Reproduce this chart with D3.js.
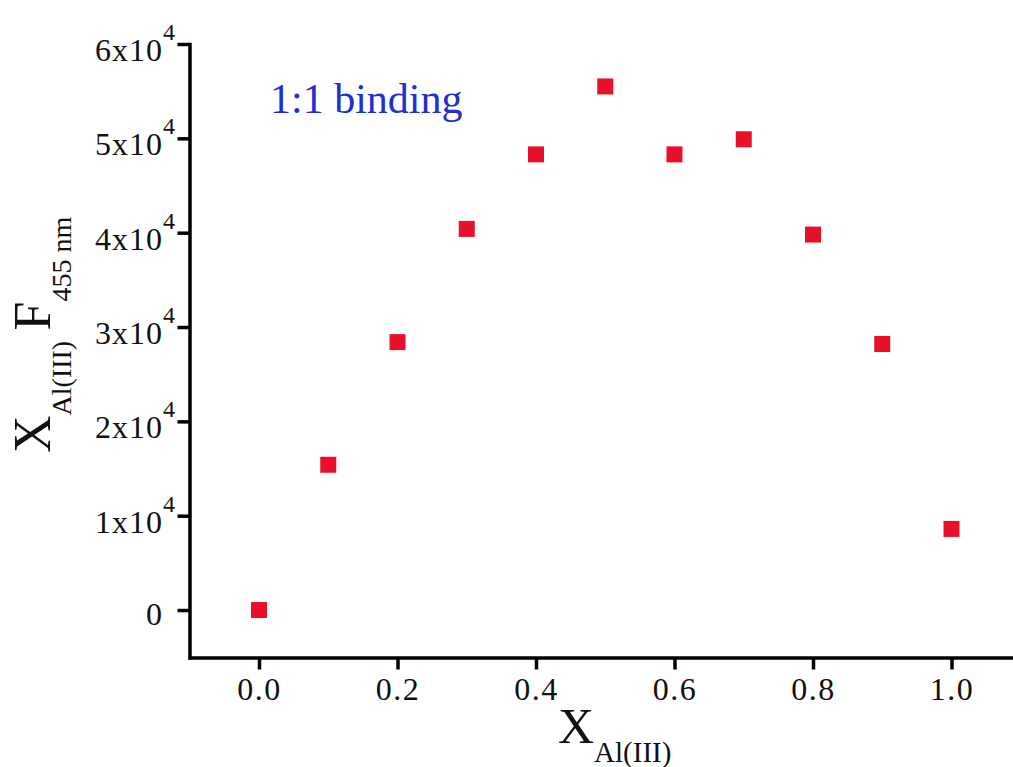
<!DOCTYPE html>
<html>
<head>
<meta charset="utf-8">
<script src="https://cdn.jsdelivr.net/npm/d3@7"></script>
<style>
  body { margin: 0; background: #fff; }
  svg { display: block; }
  text { font-family: "Liberation Serif", "Times New Roman", serif; }
</style>
</head>
<body>
<div id="chart"></div>
<script>
// mole fraction of Al(III)
const xValues = [0.0, 0.1, 0.2, 0.3, 0.4, 0.5, 0.6, 0.7, 0.8, 0.9, 1.0];
// X_Al(III) * F_455nm
const yValues = [0, 15400, 28400, 40400, 48300, 55500, 48300, 49900, 39800, 28200, 8600];
const xTicks = [0.0, 0.2, 0.4, 0.6, 0.8, 1.0];
const yTicks = [0, 10000, 20000, 30000, 40000, 50000, 60000];

const W = 1013, H = 767;

const svg = d3.select('#chart').append('svg')
  .attr('width', W)
  .attr('height', H);

const x = d3.scaleLinear().domain([-0.1, 1.1]).range([189.75, 1020.75]);
const y = d3.scaleLinear().domain([-5000, 60000]).range([657.2, 44]);

const axisY = 657.5, axisX = 189.5;

// x axis
const gx = svg.append('g')
  .attr('transform', `translate(0,${axisY})`)
  .call(d3.axisBottom(x).tickValues(xTicks).tickSize(12).tickSizeOuter(0).tickFormat(''));

// y axis
const gy = svg.append('g')
  .attr('transform', `translate(${axisX},0)`)
  .call(d3.axisLeft(y).tickValues(yTicks).tickSize(12).tickSizeOuter(0).tickFormat(''));

[gx, gy].forEach(g => {
  g.select('.domain').attr('stroke', '#000').attr('stroke-width', 3.5).attr('stroke-linecap', 'square');
  g.selectAll('.tick line').attr('stroke', '#000').attr('stroke-width', 3.5);
});

// x tick labels
gx.selectAll('.tick').append('text')
  .attr('y', 42)
  .attr('text-anchor', 'middle')
  .attr('fill', '#111')
  .style('font-size', '32px')
  .style('letter-spacing', '1.5px')
  .text(d => d.toFixed(1));

// y tick labels with "x10^4" form
const yl = svg.append('g');
yTicks.forEach(v => {
  const ty = y(v);
  if (v === 0) {
    yl.append('text')
      .attr('x', 162).attr('y', ty + 15)
      .attr('text-anchor', 'end')
      .attr('fill', '#111')
      .style('font-size', '32px')
      .text('0');
    return;
  }
  const t = yl.append('text')
    .attr('x', 95).attr('y', ty + 17)
    .attr('fill', '#111')
    .style('font-size', '32px')
    .style('letter-spacing', '1px');
  t.append('tspan').text(`${v / 1e4}x10`);
  t.append('tspan')
    .attr('dx', 0).attr('dy', -21)
    .style('font-size', '24px')
    .style('letter-spacing', '0px')
    .text('4');
});

// points
svg.append('g')
  .selectAll('rect')
  .data(xValues.map((d, i) => ({ x: d, y: yValues[i] })))
  .join('rect')
  .attr('x', d => x(d.x) - 8)
  .attr('y', d => y(d.y) - 8)
  .attr('width', 16)
  .attr('height', 16)
  .attr('fill', '#e8102a');

// annotation
svg.append('text')
  .attr('x', 270).attr('y', 113)
  .attr('fill', '#2130cc')
  .style('font-size', '42px')
  .text('1:1 binding');

// x title
const xt = svg.append('text')
  .attr('x', 558).attr('y', 743)
  .attr('fill', '#111')
  .style('font-size', '50px');
xt.append('tspan').text('X');
xt.append('tspan').attr('dy', 19).style('font-size', '29px').text('Al(III)');

// y title
const yt = svg.append('text')
  .attr('transform', 'translate(50,453) rotate(-90)')
  .attr('fill', '#111')
  .style('font-size', '52px');
yt.append('tspan').text('X');
yt.append('tspan').attr('dy', 21).style('font-size', '28px').text('Al(III)');
yt.append('tspan').attr('dy', -21).style('font-size', '52px').text('\u2009F');
yt.append('tspan').attr('dy', 21).style('font-size', '28px').text('455 nm');
</script>
</body>
</html>
